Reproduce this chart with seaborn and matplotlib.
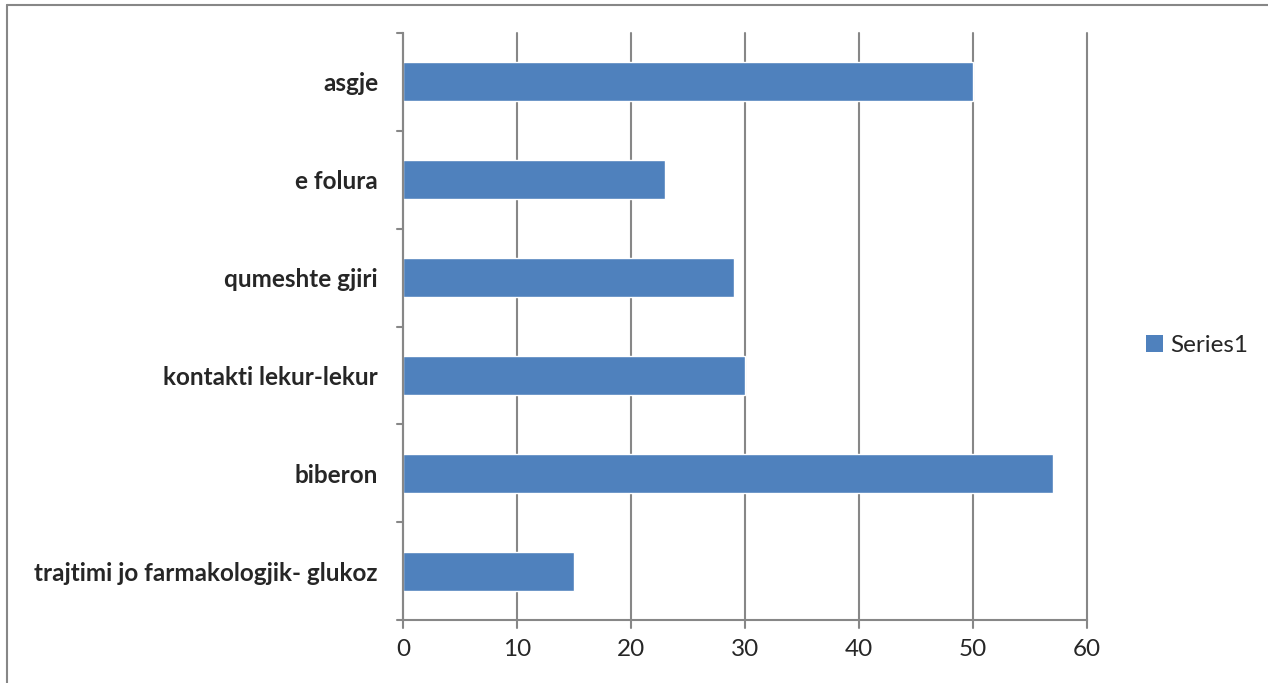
import numpy as np
import pandas as pd
import seaborn as sns
import matplotlib.pyplot as plt
from matplotlib.lines import Line2D
from matplotlib.patches import Patch

categories = ['asgje', 'e folura', 'qumeshte gjiri', 'kontakti lekur-lekur',
              'biberon', 'trajtimi jo farmakologjik- glukoz']
values = [50, 23, 29, 30, 57, 15]
x_ticks = [0, 10, 20, 30, 40, 50, 60]
series_name = 'Series1'

BAR = '#4F81BD'
GRID = '#878787'

df = pd.DataFrame({'category': categories, 'value': values})

sns.set_style('white')
plt.rcParams['font.family'] = ['Lato', 'DejaVu Sans']

fig = plt.figure(figsize=(12.68, 6.83), dpi=100)
ax = fig.add_axes([403 / 1268, 1 - 620 / 683, (1087 - 403) / 1268, (620 - 33) / 683])

sns.barplot(data=df, x='value', y='category', order=categories, color=BAR,
            saturation=1, width=0.4, ax=ax)

ax.set_xlim(0, 60)
ax.set_ylim(len(categories) - 0.5, -0.5)
ax.set_xticks(x_ticks)
ax.set_xticklabels([str(t) for t in x_ticks], fontsize=17.5)
ax.set_yticks(np.arange(len(categories)))
ax.set_yticklabels(categories, fontsize=17.5, fontweight='bold')
ax.tick_params(axis='y', length=0, pad=18)
ax.tick_params(axis='x', length=0, pad=14)
ax.set_xlabel('')
ax.set_ylabel('')

# vertical gridlines
ax.grid(axis='x', color=GRID, linewidth=1.5)
for gl in ax.get_xgridlines():
    gl.set_clip_on(False)
ax.set_axisbelow(True)
for s in ['top', 'right']:
    ax.spines[s].set_visible(False)
for s in ['left', 'bottom']:
    ax.spines[s].set_color(GRID)
    ax.spines[s].set_linewidth(1.5)

# excel-style tick marks between categories and below x axis
for b in np.arange(-0.5, len(categories), 1.0):
    ax.plot([-0.5, 0], [b, b], color=GRID, lw=1.5, clip_on=False)
for t in x_ticks:
    ax.plot([t, t], [0, -0.014], color=GRID, lw=1.5, clip_on=False,
            transform=ax.get_xaxis_transform())

ax.legend(handles=[Patch(facecolor=BAR, edgecolor='none', label=series_name)],
          loc='center left', bbox_to_anchor=(1.054, 0.468), frameon=False,
          fontsize=17.5, handlelength=0.7, handleheight=0.7, handletextpad=0.3)

# chart-area border (top and left visible)
fig.add_artist(Line2D([7 / 1268, 1], [1 - 5 / 683, 1 - 5 / 683], color=GRID, lw=1.5))
fig.add_artist(Line2D([7 / 1268, 7 / 1268], [0, 1 - 5 / 683], color=GRID, lw=1.5))

fig.savefig('out.png', dpi=100)
